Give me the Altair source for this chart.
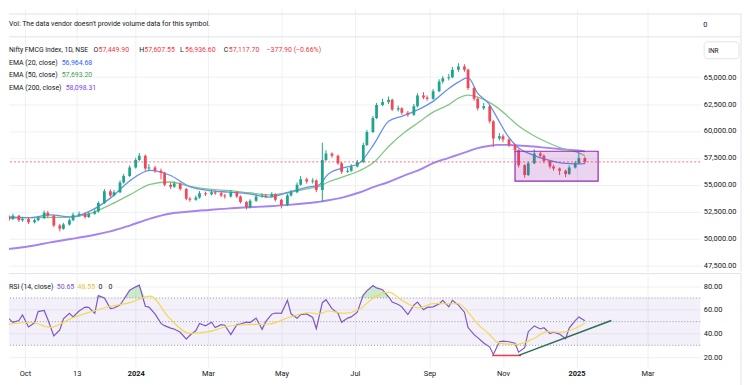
import altair as alt
import pandas as pd

# ---------------- data ----------------
candle_start = "2023-09-13"          # first candle, then every 3rd trading day
closes = [52000, 51800, 52100, 51700, 51800, 51500, 51700, 51900, 52400, 52100,
          51200, 50900, 51300, 51700, 52200, 52300, 52000, 52300, 52500, 53300,
          54400, 54000, 54300, 55200, 55800, 56600, 57300, 57700, 56500, 56600,
          56300, 56100, 55000, 54800, 55100, 54600, 53700, 53600, 53800, 54200,
          54100, 54300, 54200, 54000, 53900, 54300, 53900, 53400, 52900, 53500,
          53900, 54000, 53900, 54100, 53600, 53100, 54000, 54300, 55000, 55500,
          55300, 55400, 54500, 57300, 57900, 57700, 57000, 56200, 56300, 56700,
          57100, 58700, 59900, 61200, 62400, 62700, 62900, 62000, 62100, 61700,
          61500, 62300, 63300, 63100, 63000, 63700, 64600, 64900, 65000, 65700,
          66000, 65700, 64000, 63000, 62100, 62300, 60900, 59300, 59500, 59200,
          58700, 58200, 56800, 55900, 57000, 57900, 57700, 57200, 56700, 56500,
          56300, 56000, 56600, 57000, 57449.90, 57117.70]
first_open = 51950
highs = [52250, 52150, 52300, 52200, 52000, 51900, 51850, 52100, 52600, 52550,
         52200, 51350, 51450, 51850, 52400, 52500, 52400, 52450, 52700, 53450,
         54600, 54550, 54500, 55400, 56000, 56800, 57500, 57950, 57800, 56900,
         56750, 56500, 56200, 55200, 55300, 55200, 54700, 53850, 54000, 54400,
         54350, 54500, 54450, 54350, 54150, 54500, 54400, 54000, 53500, 53650,
         54100, 54200, 54150, 54300, 54200, 53700, 54150, 54500, 55200, 55800,
         55650, 55600, 55500, 58900, 58200, 58000, 57800, 57100, 56550, 56900,
         57300, 58900, 60100, 61400, 62600, 63000, 63200, 63000, 62350, 62200,
         61850, 62500, 63500, 63600, 63300, 63900, 64800, 65100, 65300, 65950,
         66300, 66200, 65800, 64100, 63100, 62600, 62400, 61000, 59800, 59700,
         59300, 58800, 58300, 56900, 57150, 58300, 58050, 57800, 57300, 56850,
         56600, 56400, 56800, 57200, 58000, 57607.55]
lows = [51800, 51650, 51700, 51550, 51550, 51350, 51400, 51600, 51800, 51950,
        51050, 50650, 50800, 51200, 51600, 52050, 51850, 51900, 52200, 52400,
        53200, 53850, 53900, 54200, 55100, 55700, 56500, 57200, 56300, 56300,
        56100, 55500, 54850, 54600, 54700, 54450, 53550, 53400, 53500, 53700,
        53950, 54000, 54050, 53850, 53700, 53800, 53750, 53250, 52700, 52800,
        53400, 53800, 53750, 53800, 53450, 52800, 53000, 53900, 54200, 54900,
        55100, 55100, 54300, 53400, 57200, 57500, 56850, 56000, 56100, 56200,
        56600, 57000, 58600, 59800, 61100, 62300, 62500, 61850, 61800, 61500,
        61300, 61400, 62200, 62950, 62800, 62900, 63600, 64400, 64700, 64900,
        65500, 65500, 63800, 62800, 61900, 61950, 60700, 58500, 59100, 58950,
        58500, 58000, 56600, 55650, 55800, 56900, 57500, 57000, 56500, 56300,
        55900, 55700, 55900, 56500, 56900, 56936.60]
rsi = [53.7, 52.3, 49.4, 51.0, 55.7, 45.5, 49.0, 58.5, 59.4, 52.0,
       38.0, 43.0, 52.3, 57.0, 54.0, 59.0, 62.3, 62.0, 57.0, 72.0,
       70.0, 61.0, 61.5, 64.0, 68.5, 76.5, 79.4, 80.8, 63.0, 62.3,
       56.5, 48.5, 46.6, 44.5, 43.7, 41.0, 35.2, 38.5, 42.5, 48.5,
       46.5, 49.5, 45.0, 47.5, 47.0, 39.0, 47.5, 48.0, 49.5, 49.2,
       53.0, 43.5, 50.0, 56.3, 57.3, 57.0, 68.0, 56.6, 52.8, 56.0,
       56.5, 53.5, 44.0, 66.0, 68.5, 61.0, 57.0, 49.4, 53.0, 54.0,
       58.0, 72.5, 76.0, 80.5, 78.5, 77.0, 71.0, 66.5, 64.5, 62.5,
       56.0, 64.0, 66.5, 60.0, 62.0, 62.5, 65.0, 68.0, 62.5, 68.0,
       64.0, 58.0, 45.0, 39.0, 36.5, 32.0, 28.5, 22.3, 33.0, 33.5,
       33.0, 31.8, 24.2, 28.0, 41.5, 46.4, 43.8, 44.8, 40.0, 41.0,
       39.5, 35.5, 44.5, 50.8, 54.0, 50.65]

sample_dates = ["2023-09-11", "2023-10-06", "2023-10-22", "2023-11-08", "2023-11-24",
                "2023-12-11", "2023-12-27", "2024-01-13", "2024-01-29", "2024-02-15",
                "2024-03-02", "2024-03-19", "2024-04-04", "2024-04-21", "2024-05-07",
                "2024-05-24", "2024-06-01", "2024-06-09", "2024-06-22", "2024-07-04",
                "2024-07-17", "2024-07-29", "2024-08-10", "2024-08-23", "2024-09-04",
                "2024-09-17", "2024-09-25", "2024-10-03", "2024-10-11", "2024-10-20",
                "2024-10-28", "2024-11-05", "2024-11-13", "2024-11-26", "2024-12-08",
                "2024-12-20", "2025-01-02", "2025-01-08"]
ema20 = [51990, 51930, 52200, 52000, 52540, 53750, 55350, 56330, 55900, 54820,
         54450, 54300, 54150, 53850, 54300, 54800, 54960, 56000, 56580, 56950,
         58800, 60900, 61400, 62000, 62750, 63940, 64540, 64950, 63500, 62570,
         61050, 59530, 58500, 57750, 57300, 57000, 56930, 56964.68]
ema50 = [51990, 51930, 51950, 51990, 52300, 53140, 54050, 55020, 55250, 54850,
         54580, 54440, 54250, 54050, 54250, 54650, 54820, 55250, 55750, 56250,
         57100, 58550, 59750, 60800, 61750, 62450, 63050, 63330, 63150, 62700,
         62120, 61350, 60550, 59600, 58920, 58380, 58010, 57693.20]
ema200 = [48950, 49300, 49640, 49950, 50250, 50650, 51200, 51850, 52300, 52500,
          52650, 52800, 52900, 53000, 53120, 53300, 53400, 53550, 53850, 54250,
          54800, 55250, 55800, 56350, 57000, 57500, 57800, 58100, 58400, 58600,
          58700, 58700, 58650, 58550, 58420, 58300, 58180, 58098.31]
rsi_ma = [46.6, 49.5, 45.2, 52.5, 58.0, 63.0, 66.0, 71.5, 53.0, 40.0,
          41.5, 46.3, 47.5, 48.0, 53.5, 57.5, 56.5, 59.0, 57.0, 60.0,
          70.5, 75.0, 67.5, 61.5, 65.2, 65.1, 65.1, 58.0, 48.0, 40.0,
          32.3, 31.0, 30.8, 35.5, 41.5, 41.0, 45.2, 48.55]

last_close = 57117.70
zone_dates = ["2024-11-11", "2025-01-19"]
zone_prices = [55330, 58110]
red_line_dates = ["2024-10-23", "2024-11-16"]
red_line_rsi = [21.4, 21.4]
green_line_dates = ["2024-11-14", "2025-01-30"]
green_line_rsi = [21.5, 51.0]
rsi_levels = [70, 50, 30]
rsi_band = [30, 70]
price_ticks = [47500, 50000, 52500, 55000, 57500, 60000, 62500, 65000]
rsi_ticks = [20, 40, 60, 80]
tick_dates = ["2023-10-01", "2023-11-13", "2024-01-01", "2024-03-01", "2024-05-01",
              "2024-07-01", "2024-09-01", "2024-11-01", "2025-01-01", "2025-03-01"]
x_range = ["2023-09-17T19:00", "2025-04-13T19:00"]
price_range = [46916, 71336]
rsi_range = [11.6, 90.6]


def ms(s):
    return int(pd.Timestamp(s, tz="UTC").value // 10**6)


# ---------------- tables ----------------
dates = pd.bdate_range(candle_start, periods=len(closes), freq="3B").strftime("%Y-%m-%d")
opens = [first_open] + closes[:-1]
candles = pd.DataFrame({"date": list(dates), "open": opens, "close": closes,
                        "high": highs, "low": lows, "rsi": rsi})
emas = pd.DataFrame({"date": sample_dates, "e20": ema20, "e50": ema50,
                     "e200": ema200, "ma": rsi_ma})
zone = pd.DataFrame({"d1": [zone_dates[0]], "d2": [zone_dates[1]],
                     "p1": [zone_prices[0]], "p2": [zone_prices[1]]})
red_line = pd.DataFrame({"date": red_line_dates, "v": red_line_rsi})
green_line = pd.DataFrame({"date": green_line_dates, "v": green_line_rsi})
last_df = pd.DataFrame({"p": [last_close]})
band_df = pd.DataFrame({"lo": [rsi_band[0]], "hi": [rsi_band[1]]})
one = pd.DataFrame({"a": [0]})

# ---------------- style ----------------
W = 695
H1 = 264
H2 = 94
FONT = "Roboto"
DARK = "#131722"
GRID = "#eef0f4"
BORDER = "#e0e3eb"
UP = "#1fa58b"
DOWN = "#f2495a"
RED = "#f23645"
C20 = "#6690f3"
C50 = "#82c785"
C200 = "#a483f2"
RSI_C = "#7e57c2"
MA_C = "#f0da55"

xticks = [ms(d) for d in tick_dates]
xscale = alt.Scale(type="utc", domain=[ms(x_range[0]), ms(x_range[1])])
y1 = alt.Scale(domain=price_range, zero=False, nice=False)
y2s = alt.Scale(domain=rsi_range, zero=False, nice=False)

x_axis_top = alt.Axis(values=xticks, labels=False, ticks=False, domain=False,
                      grid=True, gridColor=GRID, title=None)
label_expr = ("utcFormat(datum.value, '%Y-%m') == '2023-11' ? '13' : "
              "(utcmonth(datum.value) == 0 ? utcFormat(datum.value, '%Y') : utcFormat(datum.value, '%b'))")
x_axis_bottom = alt.Axis(values=xticks, labelExpr=label_expr, ticks=False, domain=False,
                         grid=True, gridColor=GRID, title=None, labelPadding=2,
                         labelFont=FONT, labelFontSize=7.5, labelColor=DARK,
                         labelFontWeight={"condition": {"test": "utcmonth(datum.value) == 0",
                                                        "value": "bold"},
                                          "value": "normal"},
                         labelFlush=False, labelOverlap=False)
y_axis_price = alt.Axis(orient="right", values=price_ticks, format=",.2f", ticks=False,
                        domain=False, grid=True, gridColor=GRID, title=None,
                        labelPadding=3, labelFont=FONT, labelFontSize=7.5, labelColor=DARK)
y_axis_rsi = alt.Axis(orient="right", values=rsi_ticks, format=".2f", ticks=False,
                      domain=False, grid=True, gridColor=GRID, title=None,
                      labelPadding=3, labelFont=FONT, labelFontSize=7.5, labelColor=DARK)


def X1(f):
    return alt.X(f, scale=xscale, axis=x_axis_top)


def Y1(f):
    return alt.Y(f, scale=y1, axis=y_axis_price)


def X2(f):
    return alt.X(f, scale=xscale, axis=x_axis_bottom)


def Y2(f):
    return alt.Y(f, scale=y2s, axis=y_axis_rsi)


def txt(s, x, y, color=DARK, size=7):
    return alt.Chart(pd.DataFrame({"t": [s]})).mark_text(
        align="left", baseline="middle", font=FONT, fontSize=size, color=color
    ).encode(text="t:N", x=alt.value(x), y=alt.value(y))


def hline(y, x1, x2, color=BORDER):
    return alt.Chart(one).mark_rule(color=color, strokeWidth=1).encode(
        x=alt.value(x1), x2=alt.value(x2), y=alt.value(y))


def vline(x, ya, yb, color=BORDER):
    return alt.Chart(one).mark_rule(color=color, strokeWidth=1).encode(
        x=alt.value(x), y=alt.value(ya), y2=alt.value(yb))


# ---------------- price pane ----------------
base_c = alt.Chart(candles)
ema_base = alt.Chart(emas)
line200 = ema_base.mark_line(color=C200, strokeWidth=1.9, interpolate="monotone", clip=True).encode(
    x=X1("date:T"), y=Y1("e200:Q"))
line50 = ema_base.mark_line(color=C50, strokeWidth=1.3, interpolate="monotone", clip=True).encode(
    x=X1("date:T"), y=Y1("e50:Q"))
line20 = ema_base.mark_line(color=C20, strokeWidth=1.3, interpolate="monotone", clip=True).encode(
    x=X1("date:T"), y=Y1("e20:Q"))
color_cond = alt.condition("datum.close >= datum.open", alt.value(UP), alt.value(DOWN))
wick = base_c.mark_rule(strokeWidth=1, clip=True).encode(
    x=X1("date:T"), y=Y1("low:Q"), y2="high:Q", color=color_cond)
body = base_c.mark_rule(strokeWidth=2.8, clip=True).encode(
    x=X1("date:T"), y=Y1("open:Q"), y2="close:Q", color=color_cond)
zone_rect = alt.Chart(zone).mark_rect(fill="#9c27b0", fillOpacity=0.2, stroke="#9c27b0",
                                      strokeWidth=1.2, clip=True).encode(
    x=X1("d1:T"), x2="d2:T", y=Y1("p1:Q"), y2="p2:Q")
last_rule = alt.Chart(last_df).mark_rule(color=RED, strokeDash=[2, 2], strokeWidth=1, opacity=0.7).encode(
    y=Y1("p:Q"))
inr_box = alt.Chart(one).mark_rect(fill="white", stroke=BORDER, cornerRadius=3).encode(
    x=alt.value(699), x2=alt.value(734), y=alt.value(33), y2=alt.value(50))

price_layers = [
    line200, line50, line20, wick, body, zone_rect, last_rule,
    hline(5, 0, 736), hline(28, 0, 736), vline(736, 5, H1), inr_box,
    txt("Vol: The data vendor doesn't provide volume data for this symbol.", 0, 15),
    txt("0", 698, 16, size=7.5), txt("INR", 703, 42, size=6.5),
    txt("Nifty FMCG Index, 1D, NSE", 0, 41, size=6.8),
    txt("O", 85, 41), txt("57,449.90", 90, 41, RED),
    txt("H", 131, 41), txt("57,607.55", 136, 41, RED),
    txt("L", 172, 41), txt("56,936.60", 177, 41, RED),
    txt("C", 216, 41), txt("57,117.70", 221, 41, RED),
    txt("\u2212377.90 (\u22120.66%)", 259, 41, RED),
    txt("EMA (20, close)", 0, 54), txt("56,964.68", 53, 54, "#2962ff"),
    txt("EMA (50, close)", 0, 66), txt("57,693.20", 53, 66, "#43a047"),
    txt("EMA (200, close)", 0, 79), txt("58,098.31", 57, 79, "#7e3ff2"),
]
price = alt.layer(*price_layers).properties(width=W, height=H1)

# ---------------- RSI pane ----------------
band = alt.Chart(band_df).mark_rect(color=RSI_C, opacity=0.09).encode(
    x=alt.value(0), x2=alt.value(W), y=Y2("hi:Q"), y2="lo:Q")
levels = alt.Chart(pd.DataFrame({"lvl": rsi_levels})).mark_rule(
    color="#9598a1", strokeDash=[1, 2], strokeWidth=1).encode(y=Y2("lvl:Q"))
ob = base_c.transform_calculate(top="max(datum.rsi, 70)", base="70").mark_area(
    color="#4caf50", opacity=0.28, clip=True).encode(
    x=X2("date:T"), y=Y2("top:Q"), y2="base:Q")
rsi_line = base_c.mark_line(color=RSI_C, strokeWidth=1.2, clip=True).encode(
    x=X2("date:T"), y=Y2("rsi:Q"))
ma_line = ema_base.mark_line(color=MA_C, strokeWidth=1.2, interpolate="monotone", clip=True).encode(
    x=X2("date:T"), y=Y2("ma:Q"))
red_tl = alt.Chart(red_line).mark_line(color=RED, strokeWidth=1.5).encode(
    x=X2("date:T"), y=Y2("v:Q"))
green_tl = alt.Chart(green_line).mark_line(color="#2e6b57", strokeWidth=1.5).encode(
    x=X2("date:T"), y=Y2("v:Q"))

rsi_layers = [
    band, levels, ob, rsi_line, ma_line, red_tl, green_tl,
    hline(0, 0, 736), vline(736, 0, H2 + 19),
    txt("RSI (14, close)", 0, 13), txt("50.65", 48, 13, RSI_C),
    txt("48.55", 69, 13, "#e3c93a"), txt("0", 90, 13), txt("0", 100, 13),
]
rsi_pane = alt.layer(*rsi_layers).properties(width=W, height=H2)

chart = alt.vconcat(price, rsi_pane, spacing=0).properties(
    padding=0).configure_view(strokeWidth=0)

chart.save("out.html", embed_options={"renderer": "svg", "actions": False})
